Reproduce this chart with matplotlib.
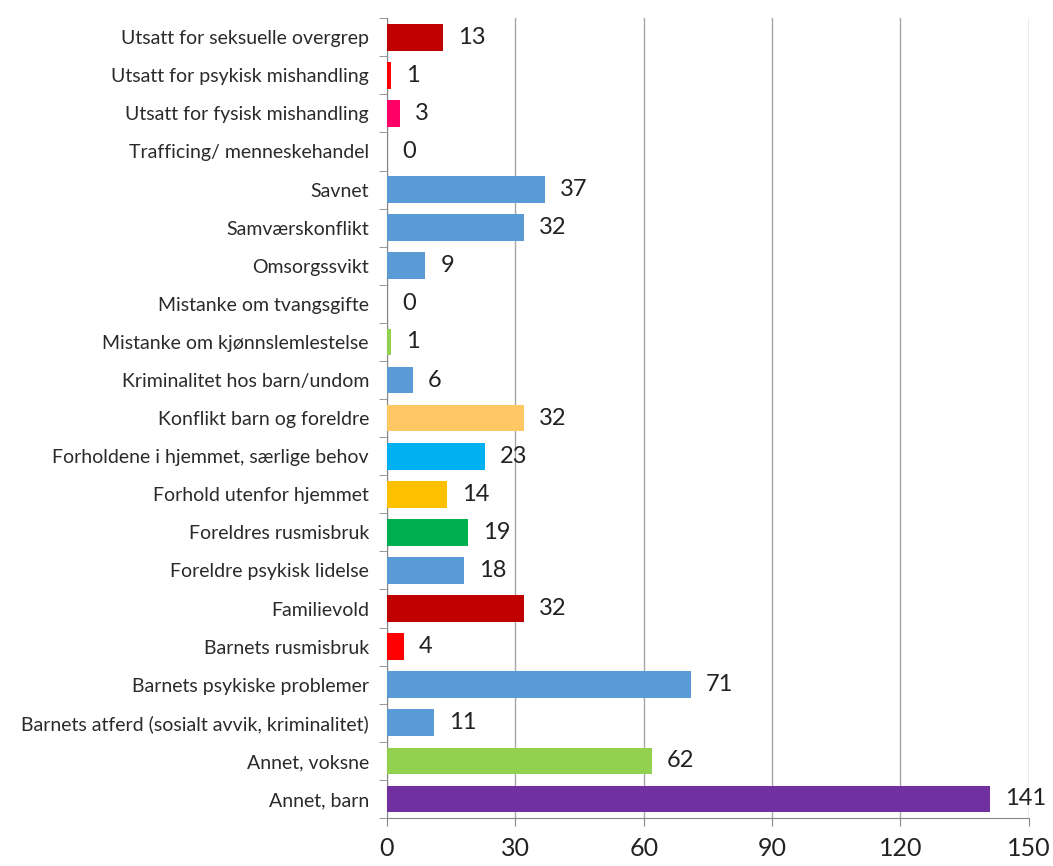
import matplotlib.pyplot as plt

# kategorier nedenfra og opp
kategorier = [
    "Annet, barn",
    "Annet, voksne",
    "Barnets atferd (sosialt avvik, kriminalitet)",
    "Barnets psykiske problemer",
    "Barnets rusmisbruk",
    "Familievold",
    "Foreldre psykisk lidelse",
    "Foreldres rusmisbruk",
    "Forhold utenfor hjemmet",
    "Forholdene i hjemmet, særlige behov",
    "Konflikt barn og foreldre",
    "Kriminalitet hos barn/undom",
    "Mistanke om kjønnslemlestelse",
    "Mistanke om tvangsgifte",
    "Omsorgssvikt",
    "Samværskonflikt",
    "Savnet",
    "Trafficing/ menneskehandel",
    "Utsatt for fysisk mishandling",
    "Utsatt for psykisk mishandling",
    "Utsatt for seksuelle overgrep",
]
antall = [141, 62, 11, 71, 4, 32, 18, 19, 14, 23, 32, 6, 1, 0, 9, 32, 37, 0, 3, 1, 13]
farger = [
    "#7030A0", "#92D050", "#5B9BD5", "#5B9BD5", "#FF0000", "#C00000",
    "#5B9BD5", "#00B050", "#FFC000", "#00B0F0", "#FFC864", "#5B9BD5",
    "#92D050", "#5B9BD5", "#5B9BD5", "#5B9BD5", "#5B9BD5", "#5B9BD5",
    "#FF0066", "#FF0000", "#C00000",
]
xticks = [0, 30, 60, 90, 120, 150]

plt.rcParams["font.family"] = ["Lato", "DejaVu Sans"]

fig = plt.figure(figsize=(10.53, 8.66), dpi=100)
ax = fig.add_axes([0.3675, 0.0554, 0.6095, 0.9236])

y = list(range(len(kategorier)))
ax.barh(y, antall, height=0.7, color=farger, zorder=3)

for yi, v in zip(y, antall):
    ax.text(v + 3.5, yi, str(v), va="center", ha="left", fontsize=17, color="#222222", zorder=4)

ax.set_xlim(0, 150)
ax.set_ylim(-0.5, len(kategorier) - 0.5)
ax.set_xticks(xticks)
ax.set_xticklabels([str(t) for t in xticks], fontsize=18, color="#222222")
ax.set_yticks(y)
ax.set_yticklabels(kategorier, fontsize=14, color="#2a2a2a")
ax.tick_params(axis="y", length=0, pad=13)
ax.tick_params(axis="x", length=6, color="#888888", pad=8)

# små tick-streker mellom kategoriene
ax.set_yticks([i - 0.5 for i in range(len(kategorier) + 1)], minor=True)
ax.tick_params(axis="y", which="minor", length=6, color="#888888")

ax.grid(axis="x", color="#A6A6A6", linewidth=1, zorder=0)
for s in ["top", "right"]:
    ax.spines[s].set_visible(False)
for s in ["left", "bottom"]:
    ax.spines[s].set_color("#888888")

fig.savefig("out.png", dpi=100)
